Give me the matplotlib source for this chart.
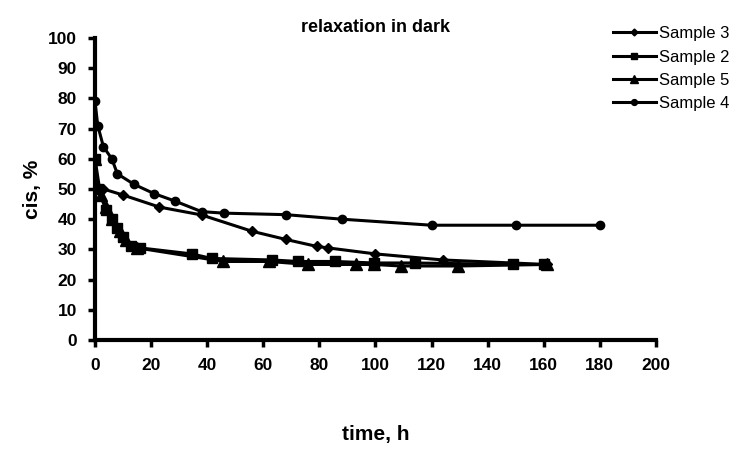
import matplotlib
matplotlib.use("Agg")
import matplotlib.pyplot as plt

# data (time in h, cis in %)
t_s3 = [0, 3, 10, 23, 38, 56, 68, 79, 83, 100, 124, 161]
cis_s3 = [50, 50, 48, 44, 41.4, 36, 33.3, 31, 30.5, 28.5, 26.5, 25]

t_s2 = [0, 1, 4, 6, 8, 10, 13, 16, 34.5, 41.6, 63, 72.5, 85.6, 99.5, 114, 149, 160]
cis_s2 = [60, 50, 43, 40, 37, 34, 31, 30.5, 28.5, 27, 26.5, 26, 26, 25.5, 25.5, 25, 25]

t_s5 = [0, 2, 4, 6, 9, 11, 15, 45.7, 62, 76, 93, 99.5, 109, 129.5, 161]
cis_s5 = [60, 48, 44, 40, 36, 33, 30.5, 26, 26, 25, 25, 25, 24.5, 24.5, 25]

t_s4 = [0, 1, 3, 6, 8, 14, 21, 28.5, 38, 46, 68, 88, 120, 150, 180]
cis_s4 = [79, 71, 64, 60, 55, 51.5, 48.5, 46, 42.5, 42, 41.5, 40, 38, 38, 38]

x_ticks = list(range(0, 201, 20))
y_ticks = list(range(0, 101, 10))

plt.rcParams["font.family"] = ["Liberation Sans", "DejaVu Sans"]

fig = plt.figure(figsize=(7.49, 4.49), dpi=100)
ax = fig.add_axes([0.1268, 0.2428, 0.749, 0.6726])

ax.plot(t_s3, cis_s3, color="black", lw=2.2, marker="D", ms=5, label="Sample 3")
ax.plot(t_s2, cis_s2, color="black", lw=2.2, marker="s", ms=7, label="Sample 2")
ax.plot(t_s5, cis_s5, color="black", lw=2.2, marker="^", ms=8, label="Sample 5")
ax.plot(t_s4, cis_s4, color="black", lw=2.2, marker="o", ms=6, label="Sample 4")

ax.set_xlim(0, 200)
ax.set_ylim(0, 100)
ax.set_xticks(x_ticks)
ax.set_yticks(y_ticks)
for lbl in ax.get_xticklabels() + ax.get_yticklabels():
    lbl.set_fontweight("bold")
    lbl.set_fontsize(12.5)

for side in ["top", "right"]:
    ax.spines[side].set_visible(False)
for side in ["left", "bottom"]:
    ax.spines[side].set_linewidth(3)
ax.tick_params(direction="out", length=5, width=2.5, pad=8)

ax.text(0.5, 1.036, "relaxation in dark", transform=ax.transAxes, ha="center", va="center",
        fontsize=13, fontweight="bold")
ax.set_xlabel("time, h", fontsize=15, fontweight="bold")
ax.set_ylabel("cis, %", fontsize=15, fontweight="bold")
ax.xaxis.set_label_coords(0.5, -0.28)
ax.yaxis.set_label_coords(-0.094, 0.5)

fig.legend(loc="upper left", bbox_to_anchor=(0.798, 0.975), frameon=False,
           prop={"size": 12}, handlelength=2.6, handletextpad=0.15,
           labelspacing=0.5, markerscale=0.7)

fig.savefig("out.png", dpi=100)
